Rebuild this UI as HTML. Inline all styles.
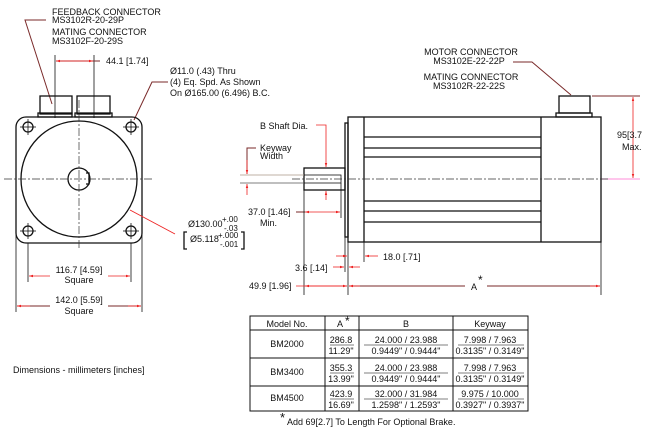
<!DOCTYPE html>
<html><head><style>
html,body{margin:0;padding:0;background:#fff;}
svg{display:block;}
text{font-family:"Liberation Sans",sans-serif;font-size:9px;fill:#111;}
.k{stroke:#111;fill:none;stroke-width:1.3;}
.t{stroke:#111;fill:none;stroke-width:0.8;}
.r{stroke:#e22;fill:none;stroke-width:0.8;}
.d{stroke:#7a2a2a;fill:none;stroke-width:1;}
.c{stroke:#333;fill:none;stroke-width:0.7;stroke-dasharray:8 2 2 2;}
</style></head><body>
<svg width="650" height="437" viewBox="0 0 650 437" xmlns="http://www.w3.org/2000/svg">
<defs>
<marker id="a" viewBox="0 0 10 10" refX="10" refY="5" markerWidth="5" markerHeight="5" orient="auto-start-reverse"><path d="M0,2 L10,5 L0,8z" fill="#e22"/></marker>
</defs>
<!-- FRONT VIEW -->
<text x="52" y="15">FEEDBACK CONNECTOR</text>
<text x="52" y="23">MS3102R-20-29P</text>
<text x="52" y="35">MATING CONNECTOR</text>
<text x="52" y="44">MS3102F-20-29S</text>
<polyline class="d" points="46,20 25,20 52,104"/>
<line class="t" x1="55" y1="55" x2="55" y2="118"/>
<line class="t" x1="94" y1="55" x2="94" y2="118"/>
<line class="d" x1="56" y1="61" x2="100" y2="61"/>
<line class="r" x1="56" y1="61" x2="93" y2="61" marker-start="url(#a)" marker-end="url(#a)"/>
<text x="106" y="64">44.1 [1.74]</text>
<rect class="k" x="40" y="96" width="32" height="18"/>
<rect class="k" x="38" y="113" width="34" height="4"/>
<rect class="k" x="77" y="96" width="33" height="18"/>
<rect class="k" x="75" y="113" width="37" height="4"/>
<text x="170" y="74">Ø11.0 (.43) Thru</text>
<text x="170" y="85">(4) Eq. Spd. As Shown</text>
<text x="170" y="96">On Ø165.00 (6.496) B.C.</text>
<polyline class="d" points="168,82 152,82 134,120"/>
<rect class="k" x="16" y="117" width="126" height="126" rx="10"/>
<circle class="k" cx="79" cy="179" r="58"/>
<circle class="k" cx="79" cy="179" r="11"/>
<path class="k" d="M86,173 h3 v11 h-3"/>
<circle class="k" cx="28" cy="127" r="5"/><circle class="k" cx="131" cy="127" r="5"/>
<circle class="k" cx="28" cy="231" r="5"/><circle class="k" cx="131" cy="231" r="5"/>
<line class="t" x1="20" y1="127" x2="36" y2="127"/><line class="t" x1="28" y1="119" x2="28" y2="135"/>
<line class="t" x1="123" y1="127" x2="139" y2="127"/><line class="t" x1="131" y1="119" x2="131" y2="135"/>
<line class="t" x1="20" y1="231" x2="36" y2="231"/><line class="t" x1="28" y1="223" x2="28" y2="239"/>
<line class="t" x1="123" y1="231" x2="139" y2="231"/><line class="t" x1="131" y1="223" x2="131" y2="239"/>
<line class="c" x1="4" y1="179" x2="152" y2="179"/>
<line class="c" x1="79" y1="100" x2="79" y2="250"/>
<line class="r" x1="130" y1="210" x2="175" y2="234"/>
<text x="188" y="227">Ø130.00</text><text x="222" y="222" style="font-size:8px">+.00</text><text x="224" y="231" style="font-size:8px">-.03</text>
<text x="190" y="242">Ø5.118</text><text x="218" y="238" style="font-size:8px">+.000</text><text x="220" y="247" style="font-size:8px">-.001</text>
<path class="k" d="M187,232 h-3 v17 h3 M241,232 h3 v17 h-3"/>
<line class="t" x1="28" y1="243" x2="28" y2="282"/><line class="t" x1="131" y1="243" x2="131" y2="282"/>
<line class="r" x1="29" y1="276" x2="50" y2="276" marker-start="url(#a)"/><line class="r" x1="108" y1="276" x2="130" y2="276" marker-end="url(#a)"/>
<text x="79" y="273" text-anchor="middle">116.7 [4.59]</text><text x="79" y="283" text-anchor="middle">Square</text>
<line class="t" x1="16" y1="232" x2="16" y2="312"/><line class="t" x1="142" y1="232" x2="142" y2="312"/>
<line class="d" x1="17" y1="306" x2="50" y2="306"/><line class="d" x1="108" y1="306" x2="141" y2="306"/>
<line class="r" x1="17" y1="306" x2="30" y2="306" marker-start="url(#a)"/><line class="r" x1="128" y1="306" x2="141" y2="306" marker-end="url(#a)"/>
<text x="79" y="303" text-anchor="middle">142.0 [5.59]</text><text x="79" y="314" text-anchor="middle">Square</text>
<text x="13" y="373">Dimensions - millimeters [inches]</text>
<!-- SIDE VIEW -->
<text x="471" y="55" text-anchor="middle">MOTOR CONNECTOR</text>
<text x="469" y="64" text-anchor="middle">MS3102E-22-22P</text>
<text x="471" y="80" text-anchor="middle">MATING CONNECTOR</text>
<text x="469" y="89" text-anchor="middle">MS3102R-22-22S</text>
<polyline class="d" points="513,62 532,62 571,95"/>
<rect class="k" x="559" y="96" width="31" height="17"/>
<rect class="k" x="556" y="113" width="36" height="4"/>
<line class="d" x1="592" y1="96" x2="640" y2="96"/>
<line class="r" x1="633" y1="97" x2="633" y2="178" marker-start="url(#a)" marker-end="url(#a)"/>
<line x1="601" y1="179" x2="640" y2="179" stroke="#f6c" stroke-width="0.8"/>
<text x="617" y="138">95[3.7</text><text x="622" y="150">Max.</text>
<rect class="k" x="345" y="123" width="3" height="114"/>
<rect class="k" x="348" y="117" width="253" height="125"/>
<line class="k" x1="364" y1="117" x2="364" y2="242"/>
<line class="k" x1="541" y1="117" x2="541" y2="242"/>
<line class="k" x1="364" y1="137" x2="541" y2="137"/>
<line class="k" x1="364" y1="148" x2="541" y2="148"/>
<line class="k" x1="364" y1="157" x2="541" y2="157"/>
<line class="k" x1="364" y1="201" x2="541" y2="201"/>
<line class="k" x1="364" y1="211" x2="541" y2="211"/>
<line class="k" x1="364" y1="222" x2="541" y2="222"/>
<rect class="k" x="304" y="168" width="41" height="22"/>
<rect class="t" x="304" y="175" width="37" height="8"/>
<line class="c" x1="292" y1="179" x2="610" y2="179"/>
<line x1="240" y1="175" x2="304" y2="175" stroke="#a98" stroke-width="0.8"/>
<line x1="240" y1="183" x2="304" y2="183" stroke="#555" stroke-width="0.8"/>
<text x="260" y="129">B  Shaft Dia.</text>
<polyline class="r" points="316,125 326,125 326,167" marker-end="url(#a)"/>
<line class="r" x1="326" y1="200" x2="326" y2="191" marker-end="url(#a)"/>
<text x="260" y="151">Keyway</text><text x="260" y="159">Width</text>
<polyline class="d" points="256,148 247,148 247,174"/>
<line class="r" x1="247" y1="160" x2="247" y2="174" marker-end="url(#a)"/>
<line class="r" x1="247" y1="195" x2="247" y2="184" marker-end="url(#a)"/>
<text x="248" y="215">37.0 [1.46]</text><text x="260" y="226">Min.</text>
<line class="d" x1="296" y1="212" x2="305" y2="212"/>
<line class="r" x1="305" y1="212" x2="340" y2="212" marker-start="url(#a)" marker-end="url(#a)"/>
<line class="t" x1="341" y1="183" x2="341" y2="218"/>
<line class="t" x1="304" y1="190" x2="304" y2="295"/>
<line class="t" x1="348" y1="242" x2="348" y2="295"/>
<line class="t" x1="345" y1="237" x2="345" y2="272"/>
<line class="t" x1="364" y1="242" x2="364" y2="262"/>
<line class="t" x1="601" y1="242" x2="601" y2="295"/>
<line class="r" x1="336" y1="256" x2="347" y2="256" marker-end="url(#a)"/>
<line class="r" x1="378" y1="256" x2="365" y2="256" marker-end="url(#a)"/>
<text x="383" y="260">18.0 [.71]</text>
<text x="295" y="271">3.6 [.14]</text>
<line class="r" x1="333" y1="267" x2="344" y2="267" marker-end="url(#a)"/>
<line class="r" x1="360" y1="267" x2="349" y2="267" marker-end="url(#a)"/>
<text x="249" y="289">49.9 [1.96]</text>
<line class="r" x1="296" y1="286" x2="347" y2="286"/>
<line class="r" x1="305" y1="286" x2="347" y2="286" marker-start="url(#a)" marker-end="url(#a)"/>
<line class="d" x1="349" y1="286" x2="465" y2="286"/><line class="d" x1="487" y1="286" x2="600" y2="286"/>
<line class="r" x1="349" y1="286" x2="360" y2="286" marker-start="url(#a)"/>
<line class="r" x1="590" y1="286" x2="600" y2="286" marker-end="url(#a)"/>
<text x="471" y="290">A</text><text x="478" y="284" style="font-size:12px">*</text>
<!-- TABLE -->
<g stroke="#111" stroke-width="1" fill="none">
<rect x="250" y="316" width="278" height="95"/>
<line x1="250" y1="330" x2="528" y2="330"/><line x1="250" y1="358" x2="528" y2="358"/><line x1="250" y1="386" x2="528" y2="386"/>
<line x1="325" y1="316" x2="325" y2="411"/><line x1="359" y1="316" x2="359" y2="411"/><line x1="453" y1="316" x2="453" y2="411"/>
</g>
<g stroke="#555" stroke-width="0.7">
<line x1="330" y1="345" x2="354" y2="345"/><line x1="364" y1="345" x2="448" y2="345"/><line x1="458" y1="345" x2="524" y2="345"/>
<line x1="330" y1="373" x2="354" y2="373"/><line x1="364" y1="373" x2="448" y2="373"/><line x1="458" y1="373" x2="524" y2="373"/>
<line x1="330" y1="399" x2="354" y2="399"/><line x1="364" y1="399" x2="448" y2="399"/><line x1="458" y1="399" x2="524" y2="399"/>
</g>
<g text-anchor="middle">
<text x="287" y="327">Model No.</text><text x="340" y="327">A</text><text x="406" y="327">B</text><text x="490" y="327">Keyway</text>
<text x="287" y="347">BM2000</text><text x="287" y="375">BM3400</text><text x="287" y="401">BM4500</text>
<text x="341" y="343">286.8</text><text x="341" y="354">11.29"</text>
<text x="341" y="371">355.3</text><text x="341" y="382">13.99"</text>
<text x="341" y="397">423.9</text><text x="341" y="408">16.69"</text>
<text x="406" y="343">24.000 / 23.988</text><text x="406" y="354">0.9449" / 0.9444"</text>
<text x="406" y="371">24.000 / 23.988</text><text x="406" y="382">0.9449" / 0.9444"</text>
<text x="406" y="397">32.000 / 31.984</text><text x="406" y="408">1.2598" / 1.2593"</text>
<text x="490" y="343">7.998 / 7.963</text><text x="490" y="354">0.3135" / 0.3149"</text>
<text x="490" y="371">7.998 / 7.963</text><text x="490" y="382">0.3135" / 0.3149"</text>
<text x="490" y="397">9.975 / 10.000</text><text x="490" y="408">0.3927" / 0.3937"</text>
</g>
<text x="345" y="325" style="font-size:12px">*</text>
<text x="280" y="422" style="font-size:13px">*</text>
<text x="287" y="425">Add 69[2.7] To Length For Optional Brake.</text>
</svg>
</body></html>
